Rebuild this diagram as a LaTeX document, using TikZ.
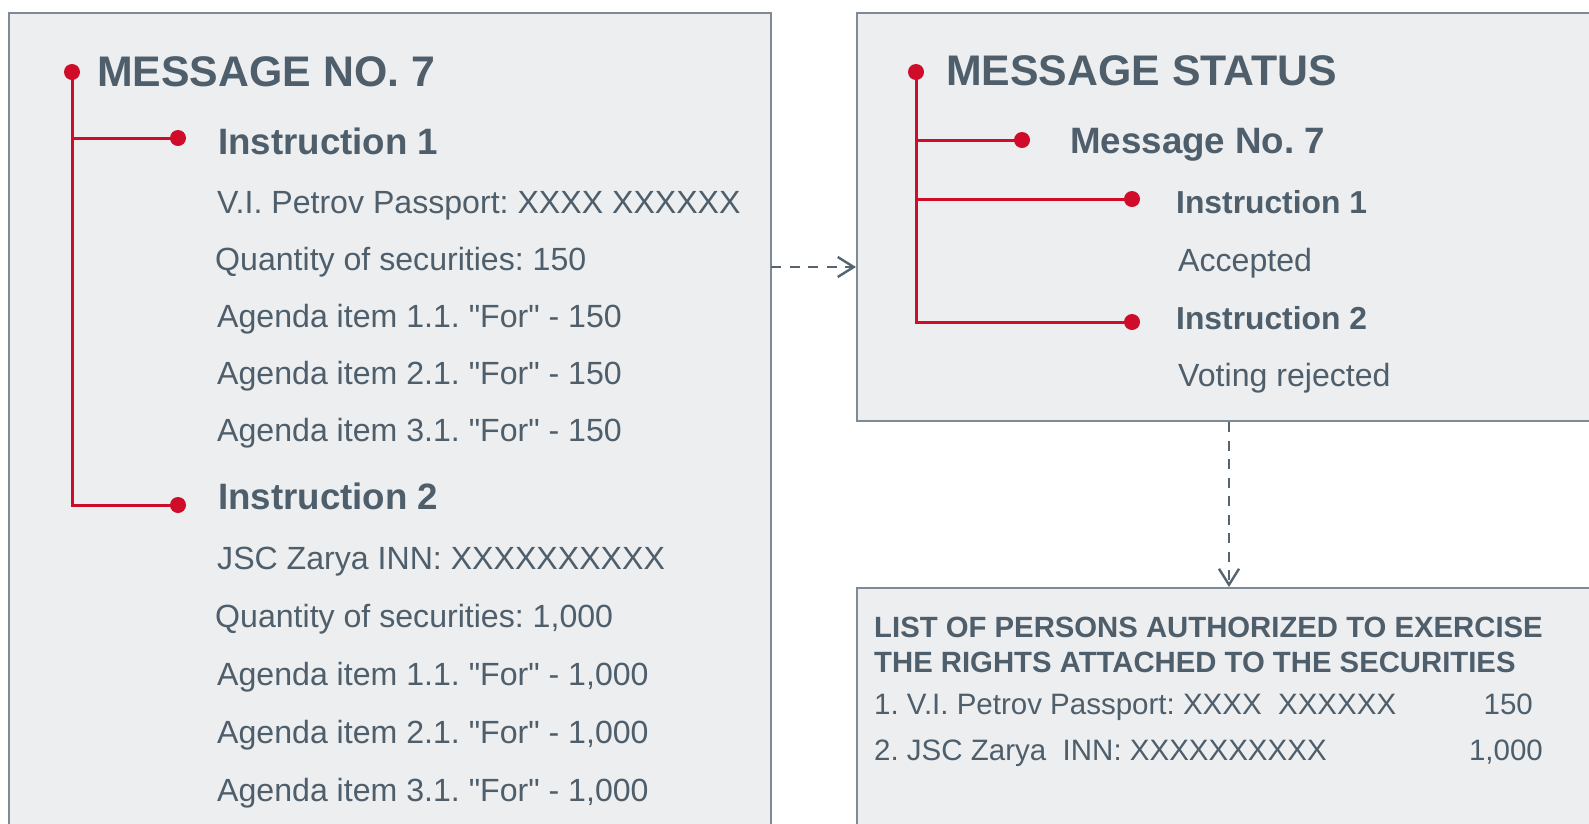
\documentclass[tikz,border=0pt]{standalone}
\usepackage{fontspec}
\setmainfont{Liberation Sans}[Ligatures=TeXOff]
\usetikzlibrary{arrows.meta}
\definecolor{txt}{HTML}{4E5E6B}
\definecolor{boxfill}{HTML}{ECEEF0}
\definecolor{boxline}{HTML}{7E8B97}
\definecolor{redc}{HTML}{CF0C2A}
\definecolor{arr}{HTML}{56646F}
\tikzset{
  panel/.style={draw=boxline, line width=2pt, fill=boxfill, anchor=north west, inner sep=0pt},
  lbl/.style={anchor=base west, inner sep=0pt, text=txt},
  lblr/.style={anchor=base east, inner sep=0pt, text=txt},
  titlef/.style={font=\fontsize{42.8}{48}\selectfont\bfseries},
  headf/.style={font=\fontsize{36.7}{42}\selectfont\bfseries},
  boldf/.style={font=\fontsize{31.8}{36}\selectfont\bfseries},
  regf/.style={font=\fontsize{32.1}{36}\selectfont},
  listhf/.style={font=\fontsize{29.3}{34}\selectfont\bfseries},
  listf/.style={font=\fontsize{29.5}{34}\selectfont},
  rdot/.style={circle, fill=redc, minimum size=16pt, inner sep=0pt},
  redline/.style={draw=redc, line width=3pt},
  dasharr/.style={draw=arr, line width=2.8pt, dash pattern=on 10pt off 8.5pt,
    -{Straight Barb[length=16pt,width=20pt,line width=2.4pt]}}
}
\begin{document}
\frenchspacing
\begin{tikzpicture}[x=1pt,y=-1pt]
\useasboundingbox (0,0) rectangle (1589,823);
\clip (0,0) rectangle (1589,823);
\fill[white] (0,0) rectangle (1589,823);
% panels
\node[panel, minimum width=762pt, minimum height=840pt] (msg) at (8,12) {};
\node[panel, minimum width=744pt, minimum height=408pt] (status) at (856,12) {};
\node[panel, minimum width=744pt, minimum height=260pt] (list) at (856,587) {};
% connectors between panels
\coordinate (arrA) at (771,267);
\coordinate (arrB) at (856,267);
\draw[dasharr] (arrA) -- (arrB);
\draw[dasharr] (status.south) -- (list.north);
% left tree
\node[rdot] (l0) at (72,72) {};
\node[rdot] (l1) at (178,138) {};
\node[rdot] (l2) at (178,505) {};
\draw[redline] (l0.center) |- (l1.center);
\draw[redline] (l0.center) |- (l2.center);
\node[lbl, titlef] (t1) at (97,86) {MESSAGE NO. 7};
\node[lbl, headf] (i1) at (218,154) {Instruction 1};
\node[lbl, regf] (a1) at (217,213) {V.I. Petrov Passport: XXXX XXXXXX};
\node[lbl, regf] (a2) at (215,270) {Quantity of securities: 150};
\node[lbl, regf] (a3) at (217,327) {Agenda item 1.1. "For" - 150};
\node[lbl, regf] (a4) at (217,384) {Agenda item 2.1. "For" - 150};
\node[lbl, regf] (a5) at (217,441) {Agenda item 3.1. "For" - 150};
\node[lbl, headf] (i2) at (218,509) {Instruction 2};
\node[lbl, regf] (b1) at (217,569) {JSC Zarya INN: XXXXXXXXXX};
\node[lbl, regf] (b2) at (215,627) {Quantity of securities: 1,000};
\node[lbl, regf] (b3) at (217,685) {Agenda item 1.1. "For" - 1,000};
\node[lbl, regf] (b4) at (217,743) {Agenda item 2.1. "For" - 1,000};
\node[lbl, regf] (b5) at (217,801) {Agenda item 3.1. "For" - 1,000};
% right tree
\node[rdot] (r0) at (916,72) {};
\node[rdot] (r1) at (1022,140) {};
\node[rdot] (r2) at (1132,199) {};
\node[rdot] (r3) at (1132,322) {};
\draw[redline] (r0.center) |- (r1.center);
\draw[redline] (r0.center) |- (r2.center);
\draw[redline] (r0.center) |- (r3.center);
\node[lbl, titlef] (t2) at (946,85) {MESSAGE STATUS};
\node[lbl, headf] (m7) at (1070,153) {Message No. 7};
\node[lbl, boldf] (s1) at (1176,213) {Instruction 1};
\node[lbl, regf] (s2) at (1178,271) {Accepted};
\node[lbl, boldf] (s3) at (1176,329) {Instruction 2};
\node[lbl, regf] (s4) at (1178,386) {Voting rejected};
% list panel
\node[lbl, listhf] (h1) at (874,637) {LIST OF PERSONS AUTHORIZED TO EXERCISE};
\node[lbl, listhf] (h2) at (874,672) {THE RIGHTS ATTACHED TO THE SECURITIES};
\node[lbl, listf] (e1) at (874,714) {1. V.I. Petrov Passport: XXXX\ \ XXXXXX};
\node[lblr, listf] (n1) at (1533,714) {150};
\node[lbl, listf] (e2) at (874,760) {2. JSC Zarya\ \ INN: XXXXXXXXXX};
\node[lblr, listf] (n2) at (1543,760) {1,000};
\end{tikzpicture}
\end{document}
